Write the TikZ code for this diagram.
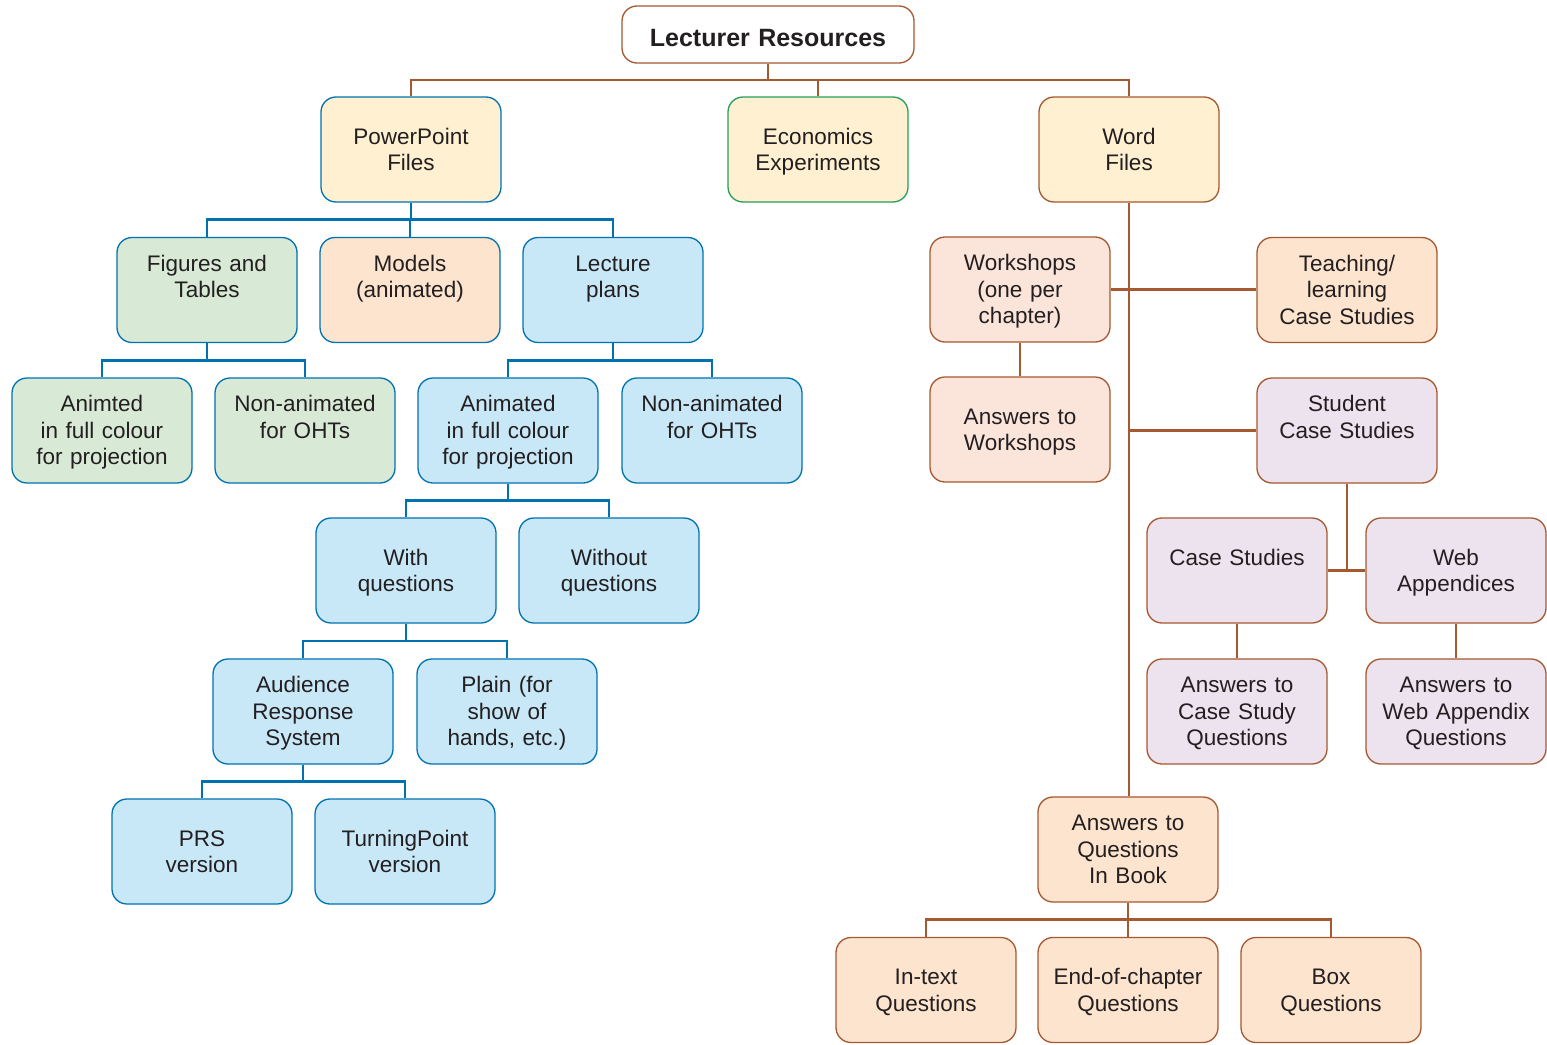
\documentclass[tikz,border=0pt]{standalone}
\usepackage{fontspec}
\setmainfont{Liberation Sans}
\usetikzlibrary{calc}
\definecolor{brn}{RGB}{166,88,48}
\definecolor{blu}{RGB}{0,114,176}
\definecolor{grn}{RGB}{35,160,90}
\definecolor{txt}{RGB}{35,31,32}
\definecolor{fyel}{RGB}{254,240,208}
\definecolor{fgrn}{RGB}{216,234,213}
\definecolor{fpch}{RGB}{253,228,206}
\definecolor{fpnk}{RGB}{251,229,219}
\definecolor{fblu}{RGB}{200,232,248}
\definecolor{flav}{RGB}{237,227,238}
\newcommand\branchto[3]{\draw[#1] (#2.south) |- ($(#2.south)!.5!(#3.north)$) -| (#3.north);}
\begin{document}
\begin{tikzpicture}[x=1pt,y=-1pt,
 box/.style={draw, rounded corners=15pt, minimum width=180pt, minimum height=105pt, inner sep=0pt, text width=176pt, align=center, text=txt, line width=1.3pt, font=\fontsize{22.5}{26.5}\selectfont, execute at begin node={\rule{0pt}{\dimexpr.7\baselineskip+5pt\relax}}, execute at end node={\strut}},
 bbox/.style={box, draw=blu},
 rbox/.style={box, draw=brn},
 bline/.style={draw=blu, line width=2.7pt},
 rline/.style={draw=brn, line width=2.7pt}]
\useasboundingbox (0,0) rectangle (1547,1044);

\node[rbox, fill=white, minimum width=292pt, minimum height=57pt, text width=288pt, font=\fontsize{25}{30}\selectfont\bfseries, execute at begin node={}, execute at end node={}, text height=23pt, text depth=0pt] (top) at (768,34.5) {Lecturer Resources};

\node[bbox, fill=fyel] (pp) at (411,149.5) {PowerPoint\\Files};
\node[box, draw=grn, fill=fyel] (econ) at (818,149.5) {Economics\\Experiments};
\node[rbox, fill=fyel] (word) at (1129,149.5) {Word\\Files};

\node[bbox, fill=fgrn] (fig) at (207,290) {Figures and\\Tables\\};
\node[bbox, fill=fpch] (models) at (410,290) {Models\\(animated)\\};
\node[bbox, fill=fblu] (lect) at (613,290) {Lecture\\plans\\};

\node[bbox, fill=fgrn] (anim1) at (102,430.5) {Animted\\in full colour\\for projection};
\node[bbox, fill=fgrn] (non1) at (305,430.5) {Non-animated\\for OHTs\\};
\node[bbox, fill=fblu] (anim2) at (508,430.5) {Animated\\in full colour\\for projection};
\node[bbox, fill=fblu] (non2) at (712,430.5) {Non-animated\\for OHTs\\};

\node[bbox, fill=fblu] (with) at (406,570.5) {With\\questions};
\node[bbox, fill=fblu] (without) at (609,570.5) {Without\\questions};
\node[bbox, fill=fblu] (ars) at (303,711.5) {Audience\\Response\\System};
\node[bbox, fill=fblu] (plain) at (507,711.5) {Plain (for\\show of\\hands, etc.)};
\node[bbox, fill=fblu] (prs) at (202,851.5) {PRS\\version};
\node[bbox, fill=fblu] (tp) at (405,851.5) {TurningPoint\\version};

\node[rbox, fill=fpnk] (work) at (1020,289.5) {Workshops\\(one per\\chapter)};
\node[rbox, fill=fpch] (teach) at (1347,290) {Teaching/\\learning\\Case Studies};
\node[rbox, fill=fpnk] (answork) at (1020,429.5) {Answers to\\Workshops};
\node[rbox, fill=flav] (student) at (1347,430.5) {Student\\Case Studies\\};
\node[rbox, fill=flav] (cs) at (1237,570.5) {Case Studies\\};
\node[rbox, fill=flav] (web) at (1456,570.5) {Web\\Appendices};
\node[rbox, fill=flav] (anscs) at (1237,711.5) {Answers to\\Case Study\\Questions};
\node[rbox, fill=flav] (answeb) at (1456,711.5) {Answers to\\Web Appendix\\Questions};
\node[rbox, fill=fpch] (ansbook) at (1128,849.5) {Answers to\\Questions\\In Book};
\node[rbox, fill=fpch] (intext) at (926,990) {In-text\\Questions};
\node[rbox, fill=fpch] (eoc) at (1128,990) {End-of-chapter\\Questions};
\node[rbox, fill=fpch] (boxq) at (1331,990) {Box\\Questions};

\branchto{rline}{top}{pp}
\branchto{rline}{top}{econ}
\branchto{rline}{top}{word}

\branchto{bline}{pp}{fig}
\branchto{bline}{pp}{models}
\branchto{bline}{pp}{lect}
\branchto{bline}{fig}{anim1}
\branchto{bline}{fig}{non1}
\branchto{bline}{lect}{anim2}
\branchto{bline}{lect}{non2}
\branchto{bline}{anim2}{with}
\branchto{bline}{anim2}{without}
\branchto{bline}{with}{ars}
\branchto{bline}{with}{plain}
\branchto{bline}{ars}{prs}
\branchto{bline}{ars}{tp}

\draw[rline] (word.south) -- (word.south |- ansbook.north);
\draw[rline] (work.east) -- (work.east -| teach.west);
\draw[rline] (work.south) -- (answork.north);
\draw[rline] (word.south |- student.west) -- (student.west);
\draw[rline] (student.south) |- (cs.east);
\draw[rline] (student.south) |- (web.west);
\draw[rline] (cs.south) -- (anscs.north);
\draw[rline] (web.south) -- (answeb.north);
\branchto{rline}{ansbook}{intext}
\branchto{rline}{ansbook}{eoc}
\branchto{rline}{ansbook}{boxq}
\end{tikzpicture}
\end{document}
